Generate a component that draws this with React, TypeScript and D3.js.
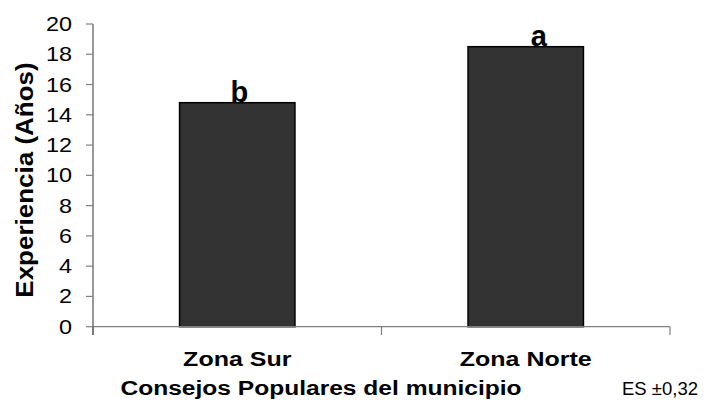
import * as d3 from 'd3'
import React from "react";

const categories = ["Zona Sur", "Zona Norte"];
const values = [14.8, 18.5];
const letters = ["b", "a"];
const yTicks = [0, 2, 4, 6, 8, 10, 12, 14, 16, 18, 20];

const W = 712;
const H = 403;
const font = "'Liberation Sans', Arial, sans-serif";

const App: React.FC = () => {
    const x = d3.scaleBand<string>()
        .domain(categories)
        .range([93, 670])
        .paddingInner(0.6)
        .paddingOuter(0.3);
    const y = d3.scaleLinear().domain([0, 20]).range([326.7, 24]);
    const step = x.step();
    const x0 = 93;
    // boundary ticks of the category axis
    const catTicks = d3.range(categories.length + 1).map(i => x0 + i * step);
    const letterDx = [2, 13];

    return (
        <svg width={W} height={H} style={{ position: 'absolute', left: 0, top: 0 }}>
            <rect width={W} height={H} fill="#fff" />

            {/* bars */}
            {categories.map((c, i) => (
                <rect key={c}
                    x={x(c)} y={y(values[i])}
                    width={x.bandwidth()} height={y(0) - y(values[i])}
                    fill="#333333" stroke="#000" strokeWidth={1.5} />
            ))}

            {/* significance letters */}
            {categories.map((c, i) => (
                <text key={c + '-l'}
                    x={(x(c) as number) + x.bandwidth() / 2 + letterDx[i]}
                    y={y(values[i]) - 1}
                    textAnchor="middle" fontFamily={font} fontWeight="bold" fontSize={29}>
                    {letters[i]}
                </text>
            ))}

            {/* x axis */}
            <line x1={x0} x2={670} y1={y(0)} y2={y(0)} stroke="#808080" strokeWidth={1.2} />
            {catTicks.map((t, i) => (
                <line key={'ct' + i} x1={t} x2={t} y1={y(0)} y2={335} stroke="#808080" strokeWidth={1.2} />
            ))}

            {/* y axis */}
            <line x1={x0} x2={x0} y1={y(20)} y2={335} stroke="#555" strokeWidth={1.2} />
            {yTicks.map(t => (
                <g key={'yt' + t}>
                    <line x1={86} x2={x0} y1={y(t)} y2={y(t)} stroke="#808080" strokeWidth={1.2} />
                    <text transform={`translate(72,${y(t) + 7}) scale(1.2,1)`}
                        textAnchor="end" fontFamily={font} fontSize={19.5} fill="#000">
                        {t}
                    </text>
                </g>
            ))}

            {/* category labels */}
            {categories.map(c => (
                <text key={c + '-x'}
                    transform={`translate(${(x(c) as number) + x.bandwidth() / 2},366) scale(1.19,1)`}
                    textAnchor="middle" fontFamily={font} fontWeight="bold" fontSize={21}>
                    {c}
                </text>
            ))}

            {/* axis titles */}
            <text transform="translate(321,395) scale(1.17,1)" textAnchor="middle"
                fontFamily={font} fontWeight="bold" fontSize={21}>
                Consejos Populares del municipio
            </text>
            <text transform="translate(33,180) rotate(-90) scale(1.13,1)" textAnchor="middle"
                fontFamily={font} fontWeight="bold" fontSize={23}>
                Experiencia (Años)
            </text>
            <text x={622} y={395} textAnchor="start"
                fontFamily={font} fontSize={18.5}>
                ES ±0,32
            </text>
        </svg>
    );
}

export default App;
